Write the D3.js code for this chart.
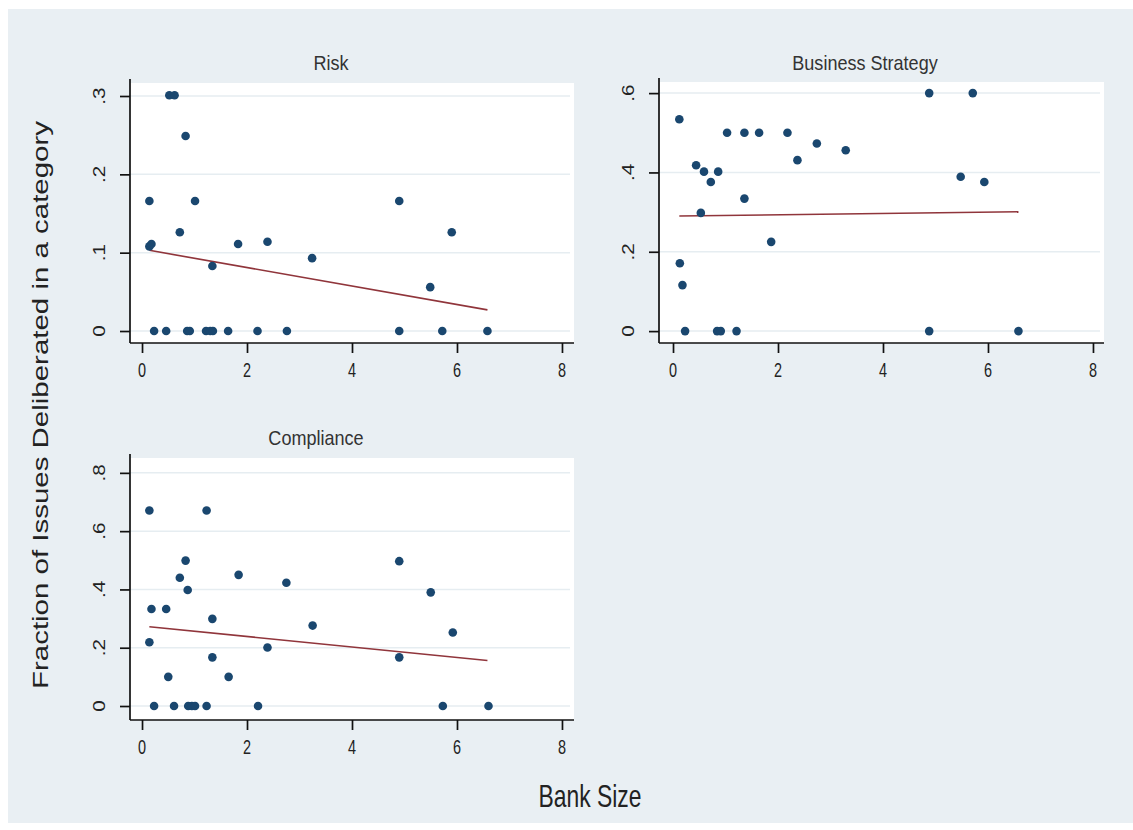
<!DOCTYPE html>
<html>
<head>
<meta charset="utf-8">
<script src="https://cdn.jsdelivr.net/npm/d3@7/dist/d3.min.js"></script>
<style>
  body { margin: 0; background: #fff; }
  text { font-family: "Liberation Sans", Arial, sans-serif; }
</style>
</head>
<body>
<svg id="chart" width="1133" height="830"></svg>
<script>
// data: bank size (x) vs fraction of issues (y)
const riskX = [0.14, 0.14, 0.18, 0.52, 0.62, 0.83, 1.01, 0.72, 1.34, 1.83, 2.39, 3.24, 4.90, 5.90, 5.49,
               0.23, 0.46, 0.86, 0.91, 1.22, 1.30, 1.35, 1.64, 2.20, 2.76, 4.90, 5.72, 6.58];
const riskY = [0.166, 0.108, 0.111, 0.301, 0.301, 0.249, 0.166, 0.126, 0.083, 0.111, 0.114, 0.093, 0.166, 0.126, 0.056,
               0, 0, 0, 0, 0, 0, 0, 0, 0, 0, 0, 0, 0];
const riskFit = [[0.14, 0.103], [6.58, 0.027]];

const bizX = [0.12, 0.44, 0.59, 0.72, 0.86, 1.03, 1.36, 1.64, 2.18, 2.37, 2.74, 3.29, 1.36, 0.53, 1.87, 0.13, 0.18,
              4.88, 5.71, 5.48, 5.93, 0.23, 0.84, 0.91, 1.21, 4.88, 6.58];
const bizY = [0.534, 0.418, 0.402, 0.376, 0.402, 0.5, 0.5, 0.5, 0.5, 0.431, 0.473, 0.456, 0.334, 0.298, 0.225, 0.171, 0.116,
              0.6, 0.6, 0.389, 0.376, 0, 0, 0, 0, 0, 0];
const bizFit = [[0.12, 0.29], [6.58, 0.301]];

const compX = [0.14, 1.23, 0.83, 0.72, 0.87, 1.84, 2.75, 0.18, 0.46, 1.34, 0.14, 1.34, 0.50, 1.65, 2.39, 3.25,
               4.90, 5.50, 5.92, 4.90, 0.23, 0.61, 0.88, 0.95, 1.01, 1.23, 2.21, 5.73, 6.60];
const compY = [0.671, 0.671, 0.499, 0.44, 0.398, 0.45, 0.423, 0.333, 0.333, 0.299, 0.219, 0.167, 0.10, 0.10, 0.201, 0.276,
               0.497, 0.39, 0.252, 0.167, 0, 0, 0, 0, 0, 0, 0, 0, 0];
const compFit = [[0.14, 0.272], [6.58, 0.156]];

const xTicks = [0, 2, 4, 6, 8];
const riskTicks = [0, 0.1, 0.2, 0.3];
const bizTicks = [0, 0.2, 0.4, 0.6];
const compTicks = [0, 0.2, 0.4, 0.6, 0.8];

const titles = ['Risk', 'Business Strategy', 'Compliance'];
const xTitle = 'Bank Size';
const yTitle = 'Fraction of Issues Deliberated in a category';

const svg = d3.select('#chart');
const BG = '#e9eff3', DOT = '#1a476f', FIT = '#90353b', GRID = '#e6edf1';

svg.append('rect').attr('x', 8).attr('y', 9).attr('width', 1125).attr('height', 814).attr('fill', BG);

const panels = [
  { title: titles[0], xs: riskX, ys: riskY, fit: riskFit, ticks: riskTicks,
    L: 130, R: 574, T: 83, B: 343, xd: [-0.229, 8.229], yd: [-0.0153, 0.3166], tx: 331, ty: 70 },
  { title: titles[1], xs: bizX, ys: bizY, fit: bizFit, ticks: bizTicks,
    L: 659, R: 1104, T: 82, B: 343, xd: [-0.267, 8.21], yd: [-0.030, 0.628], tx: 865, ty: 70 },
  { title: titles[2], xs: compX, ys: compY, fit: compFit, ticks: compTicks,
    L: 130, R: 574, T: 458, B: 720, xd: [-0.229, 8.229], yd: [-0.048, 0.851], tx: 316, ty: 445 }
];

const yFmt = v => v === 0 ? '0' : d3.format('.1f')(v).replace(/^0/, '');

panels.forEach(p => {
  const x = d3.scaleLinear().domain(p.xd).range([p.L, p.R]);
  const y = d3.scaleLinear().domain(p.yd).range([p.B, p.T]);
  const g = svg.append('g');

  g.append('rect').attr('x', p.L).attr('y', p.T).attr('width', p.R - p.L).attr('height', p.B - p.T).attr('fill', '#fff');

  // grid
  g.selectAll('line.grid').data(p.ticks).join('line')
    .attr('x1', p.L).attr('x2', p.R - 4)
    .attr('y1', d => y(d)).attr('y2', d => y(d))
    .attr('stroke', GRID).attr('stroke-width', 1.5);

  // y axis
  const ya = g.append('g').attr('transform', `translate(${p.L},0)`)
    .call(d3.axisLeft(y).tickValues(p.ticks).tickSize(10).tickFormat(''));
  ya.select('.domain').attr('d', `M0,${p.T - 4}V${p.B}`);
  ya.selectAll('path, line').attr('stroke', '#111').attr('stroke-width', 1.7);
  g.selectAll('text.ylab').data(p.ticks).join('text')
    .attr('transform', d => `translate(${p.L - 31},${y(d)}) rotate(-90) scale(1.15,0.9)`)
    .attr('text-anchor', 'middle').attr('dominant-baseline', 'central')
    .attr('font-size', 18).attr('fill', '#222').text(yFmt);

  // x axis
  const xa = g.append('g').attr('transform', `translate(0,${p.B})`)
    .call(d3.axisBottom(x).tickValues(xTicks).tickSize(10).tickFormat(''));
  xa.select('.domain').attr('d', `M${p.L},0H${p.R}`);
  xa.selectAll('path, line').attr('stroke', '#111').attr('stroke-width', 1.7);
  g.selectAll('text.xlab').data(xTicks).join('text')
    .attr('transform', d => `translate(${x(d)},${p.B + 27}) scale(0.85,1.2)`)
    .attr('text-anchor', 'middle').attr('dominant-baseline', 'central')
    .attr('font-size', 17).attr('fill', '#222').text(d => d);

  // fit line
  g.append('path').datum(p.fit)
    .attr('d', d3.line().x(d => x(d[0])).y(d => y(d[1])))
    .attr('fill', 'none').attr('stroke', FIT).attr('stroke-width', 1.6);

  // points
  g.selectAll('circle').data(p.xs.map((v, i) => [v, p.ys[i]])).join('circle')
    .attr('cx', d => x(d[0])).attr('cy', d => y(d[1])).attr('r', 4.3)
    .attr('fill', DOT);

  svg.append('text').attr('transform', `translate(${p.tx},${p.ty}) scale(0.95,1.1)`)
    .attr('text-anchor', 'middle').attr('font-size', 19).attr('fill', '#333')
    .text(p.title);
});

svg.append('text').attr('transform', 'translate(590,807) scale(0.88,1.2)')
  .attr('text-anchor', 'middle').attr('font-size', 26).attr('fill', '#222').text(xTitle);

svg.append('text').attr('transform', 'translate(48,405) rotate(-90)')
  .attr('text-anchor', 'middle').attr('font-size', 22).attr('fill', '#222')
  .attr('textLength', 568).attr('lengthAdjust', 'spacingAndGlyphs').text(yTitle);
</script>
</body>
</html>
